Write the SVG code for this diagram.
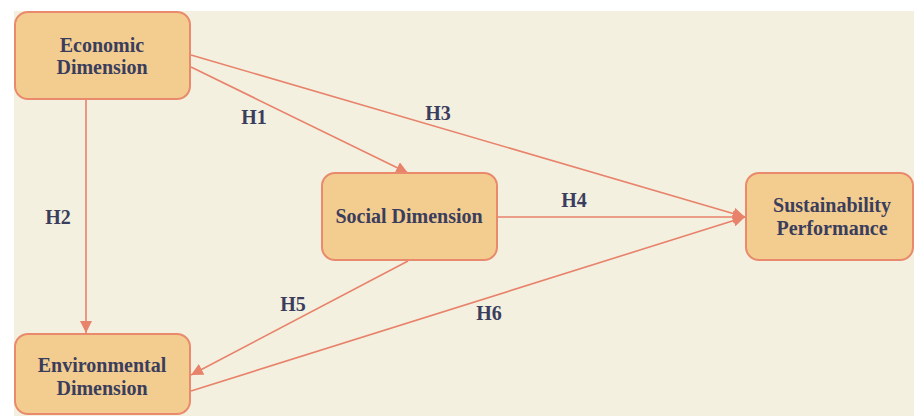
<svg xmlns="http://www.w3.org/2000/svg" width="914" height="416" viewBox="0 0 914 416">
  <style>
    .node rect { fill: #F3CD8F; stroke: #E98A6C; stroke-width: 2; }
    .node text, .lbl { font-family: "Liberation Serif", "Times New Roman", serif; font-weight: bold; font-size: 20px; fill: #3B3D5C; text-anchor: middle; }
    .edge { stroke: #E8826A; stroke-width: 1.6; fill: none; marker-end: url(#arr); }
  </style>
  <defs>
    <marker id="arr" markerUnits="userSpaceOnUse" markerWidth="14" markerHeight="12" refX="12" refY="6" orient="auto">
      <path d="M0,0 L12,6 L0,12 Z" fill="#E8826A"/>
    </marker>
  </defs>
  <rect x="0" y="0" width="914" height="416" fill="#FFFFFF"/>
  <rect x="14" y="11" width="900" height="405" fill="#F3F0E0"/>

  <g id="connectors">
    <path class="edge" d="M191,67 L408,173"/>
    <path class="edge" d="M191,55 L745,217"/>
    <path class="edge" d="M86,99 L86,333"/>
    <path class="edge" d="M497,217 L745,217"/>
    <path class="edge" d="M408,261 L191,375"/>
    <path class="edge" d="M191,391 L745,217"/>
    <text class="lbl" x="254" y="124">H1</text>
    <text class="lbl" x="438" y="120">H3</text>
    <text class="lbl" x="58" y="224">H2</text>
    <text class="lbl" x="574" y="207">H4</text>
    <text class="lbl" x="293" y="311">H5</text>
    <text class="lbl" x="489" y="320">H6</text>
  </g>

  <g id="economic" class="node">
    <rect x="15" y="12" width="175" height="87" rx="13"/>
    <text x="102" y="52">Economic</text>
    <text x="102" y="74">Dimension</text>
  </g>
  <g id="environmental" class="node">
    <rect x="15" y="334" width="175" height="80" rx="13"/>
    <text x="102" y="372">Environmental</text>
    <text x="102" y="395">Dimension</text>
  </g>
  <g id="social" class="node">
    <rect x="322" y="173" width="175" height="87" rx="13"/>
    <text x="409" y="223">Social Dimension</text>
  </g>
  <g id="sustainability" class="node">
    <rect x="746" y="173" width="167" height="87" rx="13"/>
    <text x="832" y="212">Sustainability</text>
    <text x="832" y="235">Performance</text>
  </g>
</svg>
